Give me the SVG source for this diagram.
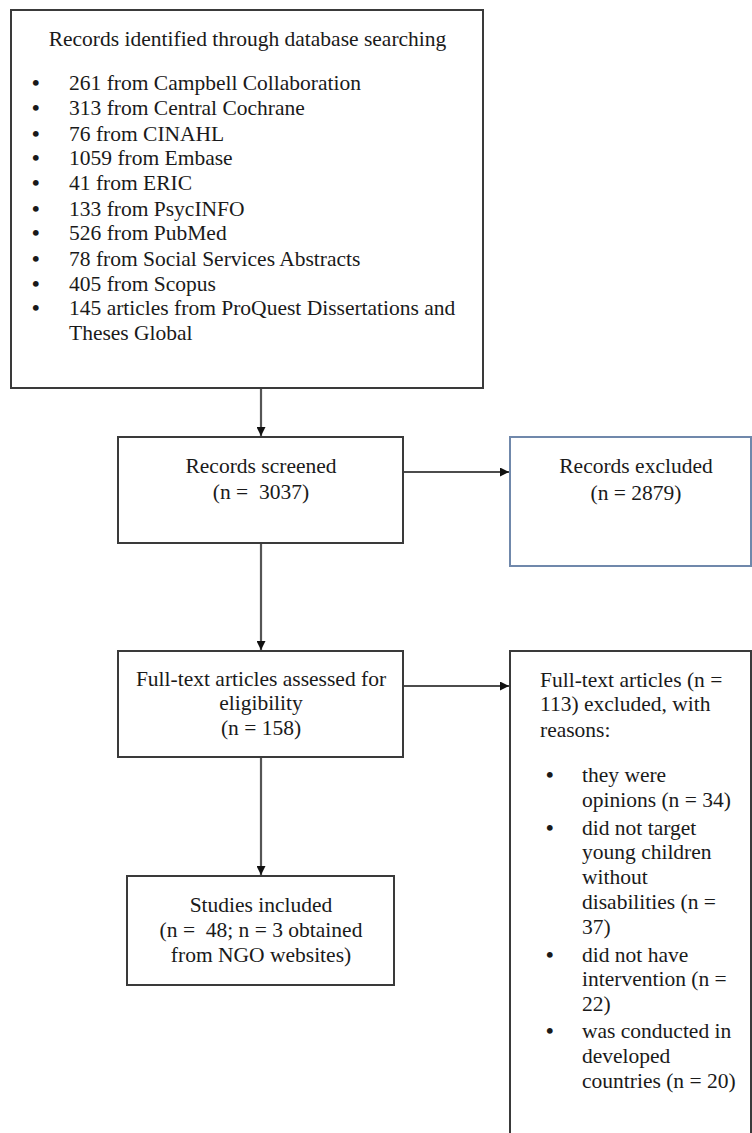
<svg xmlns="http://www.w3.org/2000/svg" width="752" height="1133" viewBox="0 0 752 1133">
<style>
text{font-family:"Liberation Serif","Times New Roman",serif;font-size:21.5px;fill:#1a1a1a}
.c{text-anchor:middle}
.b{font-weight:bold}
.box{fill:#fff;stroke:#3a3a3a;stroke-width:2}
.blue{fill:#fff;stroke:#7088ab;stroke-width:2}
.v{stroke:#555;stroke-width:2.2;fill:none}
.h{stroke:#111;stroke-width:1.5;fill:none}
</style>
<defs>
<marker id="ah" viewBox="0 0 10 10" refX="10" refY="5" markerWidth="9" markerHeight="9" markerUnits="userSpaceOnUse" orient="auto">
<path d="M0,0 L10,5 L0,10 Z" fill="#111"/>
</marker>
</defs>
<g id="connectors">
<line class="v" x1="261" y1="389" x2="261" y2="436" marker-end="url(#ah)"/>
<line class="v" x1="261" y1="543" x2="261" y2="650" marker-end="url(#ah)"/>
<line class="v" x1="261" y1="757" x2="261" y2="875" marker-end="url(#ah)"/>
<line class="h" x1="403" y1="472" x2="509" y2="472" marker-end="url(#ah)"/>
<line class="h" x1="403" y1="686" x2="509" y2="686" marker-end="url(#ah)"/>
</g>
<g id="identified">
<rect class="box" x="11" y="10" width="472" height="378"/>
<text class="c" x="247.5" y="46">Records identified through database searching</text>
<g>
<text class="b" x="32" y="90">•</text><text x="69" y="90">261 from Campbell Collaboration</text>
<text class="b" x="32" y="115">•</text><text x="69" y="115">313 from Central Cochrane</text>
<text class="b" x="32" y="141">•</text><text x="69" y="141">76 from CINAHL</text>
<text class="b" x="32" y="165">•</text><text x="69" y="165">1059 from Embase</text>
<text class="b" x="32" y="190">•</text><text x="69" y="190">41 from ERIC</text>
<text class="b" x="32" y="216">•</text><text x="69" y="216">133 from PsycINFO</text>
<text class="b" x="32" y="240">•</text><text x="69" y="240">526 from PubMed</text>
<text class="b" x="32" y="266">•</text><text x="69" y="266">78 from Social Services Abstracts</text>
<text class="b" x="32" y="291">•</text><text x="69" y="291">405 from Scopus</text>
<text class="b" x="32" y="315">•</text><text x="69" y="315">145 articles from ProQuest Dissertations and</text>
<text x="69" y="340">Theses Global</text>
</g>
</g>
<g id="screened">
<rect class="box" x="118" y="437" width="285" height="106"/>
<text class="c" x="261" y="473">Records screened</text>
<text class="c" x="261" y="499" xml:space="preserve">(n =  3037)</text>
</g>
<g id="excluded">
<rect class="blue" x="510" y="437" width="241" height="129"/>
<text class="c" x="636" y="473">Records excluded</text>
<text class="c" x="636" y="500">(n = 2879)</text>
</g>
<g id="fulltext">
<rect class="box" x="118" y="651" width="285" height="106"/>
<text class="c" x="261" y="686">Full-text articles assessed for</text>
<text class="c" x="261" y="710">eligibility</text>
<text class="c" x="261" y="735">(n = 158)</text>
</g>
<g id="fulltext-excluded">
<rect class="box" x="510" y="651" width="241" height="500"/>
<text x="540" y="687">Full-text articles (n =</text>
<text x="540" y="711">113) excluded, with</text>
<text x="540" y="737">reasons:</text>
<text class="b" x="546" y="782">•</text><text x="582" y="782">they were</text>
<text x="582" y="807">opinions (n = 34)</text>
<text class="b" x="546" y="835">•</text><text x="582" y="835">did not target</text>
<text x="582" y="859">young children</text>
<text x="582" y="884">without</text>
<text x="582" y="909">disabilities (n =</text>
<text x="582" y="934">37)</text>
<text class="b" x="546" y="962">•</text><text x="582" y="962">did not have</text>
<text x="582" y="986">intervention (n =</text>
<text x="582" y="1011">22)</text>
<text class="b" x="546" y="1038">•</text><text x="582" y="1038">was conducted in</text>
<text x="582" y="1063">developed</text>
<text x="582" y="1088">countries (n = 20)</text>
</g>
<g id="included">
<rect class="box" x="127" y="876" width="267" height="109"/>
<text class="c" x="261" y="912">Studies included</text>
<text class="c" x="261" y="937" xml:space="preserve">(n =  48; n = 3 obtained</text>
<text class="c" x="261" y="962">from NGO websites)</text>
</g>
</svg>
